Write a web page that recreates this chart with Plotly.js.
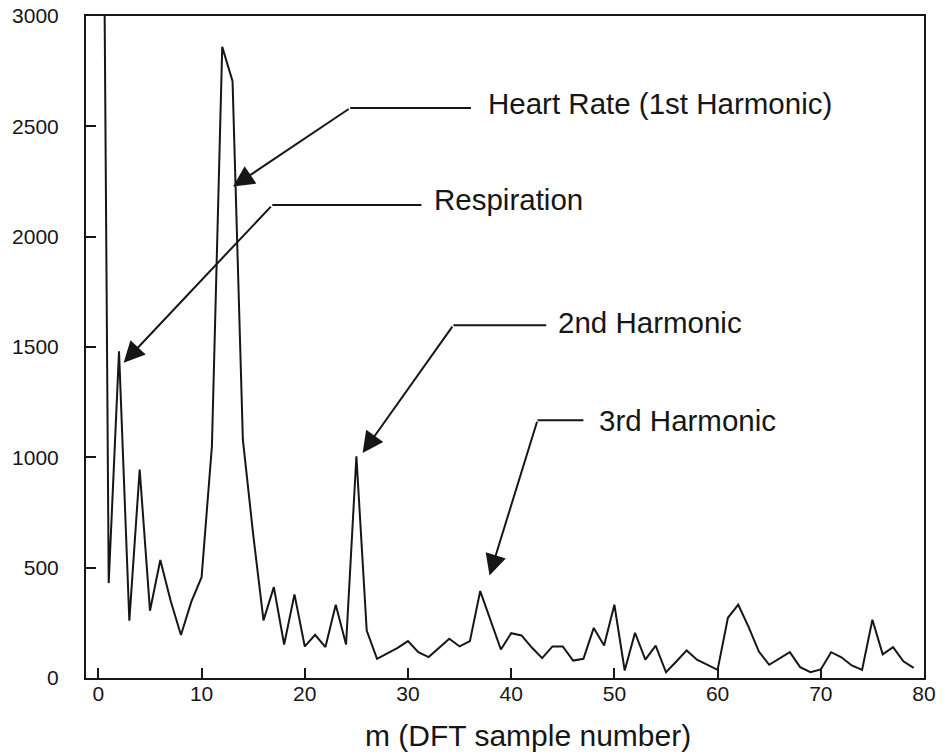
<!DOCTYPE html>
<html>
<head>
<meta charset="utf-8">
<script src="https://cdn.plot.ly/plotly-3.0.1.min.js"></script>
<style>
  html, body { margin: 0; padding: 0; background: #fff; }
  #chart { width: 947px; height: 756px; }
</style>
</head>
<body>
<div id="chart"></div>
<script>
// DFT magnitude spectrum of a pulse signal, sample index m = 0..79
const sampleIndex = Array.from({length: 80}, (_, i) => i);
const magnitude = [
  7000, 430, 1480, 260, 945, 305, 535, 350, 195, 345,
  457, 1050, 2860, 2705, 1080, 650, 261, 412, 152, 379,
  143, 196, 140, 332, 152, 1005, 215, 87, 112, 137,
  167, 117, 95, 138, 178, 143, 167, 394, 262, 129,
  203, 193, 138, 90, 143, 143, 79, 87, 227, 147,
  332, 34, 205, 83, 147, 26, 75, 125, 83, 60,
  37, 273, 332, 232, 120, 60, 87, 117, 49, 26,
  39, 117, 94, 57, 37, 264, 107, 140, 76, 46
];

const xTicks = [0, 10, 20, 30, 40, 50, 60, 70, 80];
const yTicks = [0, 500, 1000, 1500, 2000, 2500, 3000];

// callout labels
const calloutText = [
  'Heart Rate (1st Harmonic)',
  'Respiration',
  '2nd Harmonic',
  '3rd Harmonic'
];
const xTitle = 'm (DFT sample number)';

const ink = '#161616';
const font = 'Liberation Sans, Arial, Helvetica, sans-serif';

// leader geometry (data units): arrow tip, elbow, end of horizontal run, text anchor
const leaders = [
  {tip: [13.05, 2227], elbow: [24.4, 2583], end: [36.1, 2583], label: [37.55, 2605]},
  {tip: [2.45, 1429],  elbow: [16.85, 2143], end: [31.3, 2143], label: [32.3, 2168]},
  {tip: [25.6, 1020],  elbow: [34.4, 1599],  end: [43.4, 1599], label: [44.3, 1612]},
  {tip: [37.9, 465],   elbow: [42.55, 1168], end: [47.0, 1168], label: [48.3, 1168]}
];

const annotations = [];
const shapes = [];
leaders.forEach((d, i) => {
  annotations.push({
    x: d.tip[0], y: d.tip[1], xref: 'x', yref: 'y',
    ax: d.elbow[0], ay: d.elbow[1], axref: 'x', ayref: 'y',
    text: '', showarrow: true,
    arrowhead: 2, arrowsize: 2.1, arrowwidth: 2, arrowcolor: ink
  });
  shapes.push({
    type: 'line', xref: 'x', yref: 'y',
    x0: d.elbow[0], y0: d.elbow[1], x1: d.end[0], y1: d.end[1],
    line: {color: ink, width: 2}
  });
  annotations.push({
    x: d.label[0], y: d.label[1], xref: 'x', yref: 'y',
    text: calloutText[i], showarrow: false,
    xanchor: 'left', yanchor: 'middle',
    font: {family: font, size: 29.5, color: ink}
  });
});

// x-axis caption, set slightly right of the plot centre
annotations.push({
  x: 0.527, y: -0.087, xref: 'paper', yref: 'paper',
  xanchor: 'center', yanchor: 'middle',
  text: xTitle, showarrow: false,
  font: {family: font, size: 30, color: ink}
});

const trace = {
  x: sampleIndex,
  y: magnitude,
  type: 'scatter',
  mode: 'lines',
  line: {color: ink, width: 2},
  cliponaxis: true,
  hoverinfo: 'x+y'
};

const layout = {
  width: 947,
  height: 756,
  margin: {l: 86, r: 23, t: 16, b: 78},
  paper_bgcolor: '#fff',
  plot_bgcolor: '#fff',
  showlegend: false,
  font: {family: font, color: ink},
  xaxis: {
    range: [-1.2, 80],
    tickvals: xTicks,
    ticktext: xTicks.map(String),
    ticks: 'inside', ticklen: 10, tickwidth: 2, tickcolor: ink,
    showline: true, linecolor: ink, linewidth: 2, mirror: true,
    showgrid: false, zeroline: false,
    tickfont: {family: font, size: 21, color: ink},
    ticklabelstandoff: -4
  },
  yaxis: {
    range: [0, 3000],
    tickvals: yTicks,
    ticktext: yTicks.map(String),
    ticks: 'inside', ticklen: 10, tickwidth: 2, tickcolor: ink,
    showline: true, linecolor: ink, linewidth: 2, mirror: true,
    showgrid: false, zeroline: false,
    tickfont: {family: font, size: 21, color: ink},
    ticklabelstandoff: 21
  },
  shapes: shapes,
  annotations: annotations
};

Plotly.newPlot('chart', [trace], layout, {staticPlot: true, displayModeBar: false});
</script>
</body>
</html>
